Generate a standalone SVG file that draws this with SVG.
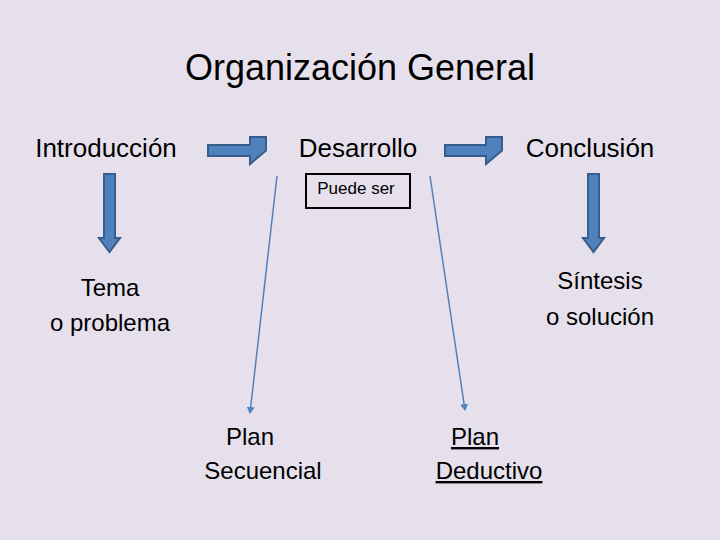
<svg xmlns="http://www.w3.org/2000/svg" width="720" height="540" viewBox="0 0 720 540">
<style>
text{font-family:"Liberation Sans","Open Sans",sans-serif;fill:#000}
.blk{fill:#4f81bd;stroke:#385d8a;stroke-width:2}
.ln{stroke:#4f81bd;stroke-width:1.5;fill:none;marker-end:url(#ah)}
</style>
<defs><marker id="ah" markerWidth="8" markerHeight="8" refX="6" refY="4" orient="auto" markerUnits="userSpaceOnUse"><path d="M0,0 L7,4 L0,8 z" fill="#4f81bd"/></marker></defs>
<rect width="720" height="540" fill="#e6e0ec"/>
<text x="360" y="80" font-size="36" text-anchor="middle">Organización General</text>
<g id="introduccion"><text x="106" y="157" font-size="26" text-anchor="middle">Introducción</text></g>
<g id="desarrollo"><text x="358" y="157" font-size="26" text-anchor="middle">Desarrollo</text></g>
<g id="conclusion"><text x="590" y="157" font-size="26" text-anchor="middle">Conclusión</text></g>
<g id="puede"><rect x="306" y="174" width="104" height="34" fill="none" stroke="#000" stroke-width="2"/><text x="356" y="194" font-size="17" text-anchor="middle">Puede ser</text></g>
<g id="tema"><text x="110" y="296" font-size="24" text-anchor="middle">Tema</text><text x="110" y="331" font-size="24" text-anchor="middle">o problema</text></g>
<g id="sintesis"><text x="600" y="289" font-size="24" text-anchor="middle">Síntesis</text><text x="600" y="325" font-size="24" text-anchor="middle">o solución</text></g>
<g id="secuencial"><text x="250" y="445" font-size="24" text-anchor="middle">Plan</text><text x="263" y="479" font-size="24" text-anchor="middle">Secuencial</text></g>
<g id="deductivo"><text x="475" y="445" font-size="24" text-anchor="middle" text-decoration="underline">Plan</text><text x="489" y="479" font-size="24" text-anchor="middle" text-decoration="underline">Deductivo</text></g>
<g id="connectors">
<path class="blk" d="M208,145 H250 V137 H266 V150.5 L250,164 V156 H208 Z" transform="translate(0,0)"/>
<path class="blk" d="M445,145 H486 V137 H502 V150.5 L486,164 V156 H445 Z"/>
<path class="blk" d="M104,174 H115 V238 H120 L109.5,252 L99,238 H104 Z"/>
<path class="blk" d="M588,174 H599 V238 H604 L593.5,252 L583,238 H588 Z"/>
<path class="ln" d="M277,176 L250,413"/>
<path class="ln" d="M430,176 L465,410"/>
</g>
</svg>
